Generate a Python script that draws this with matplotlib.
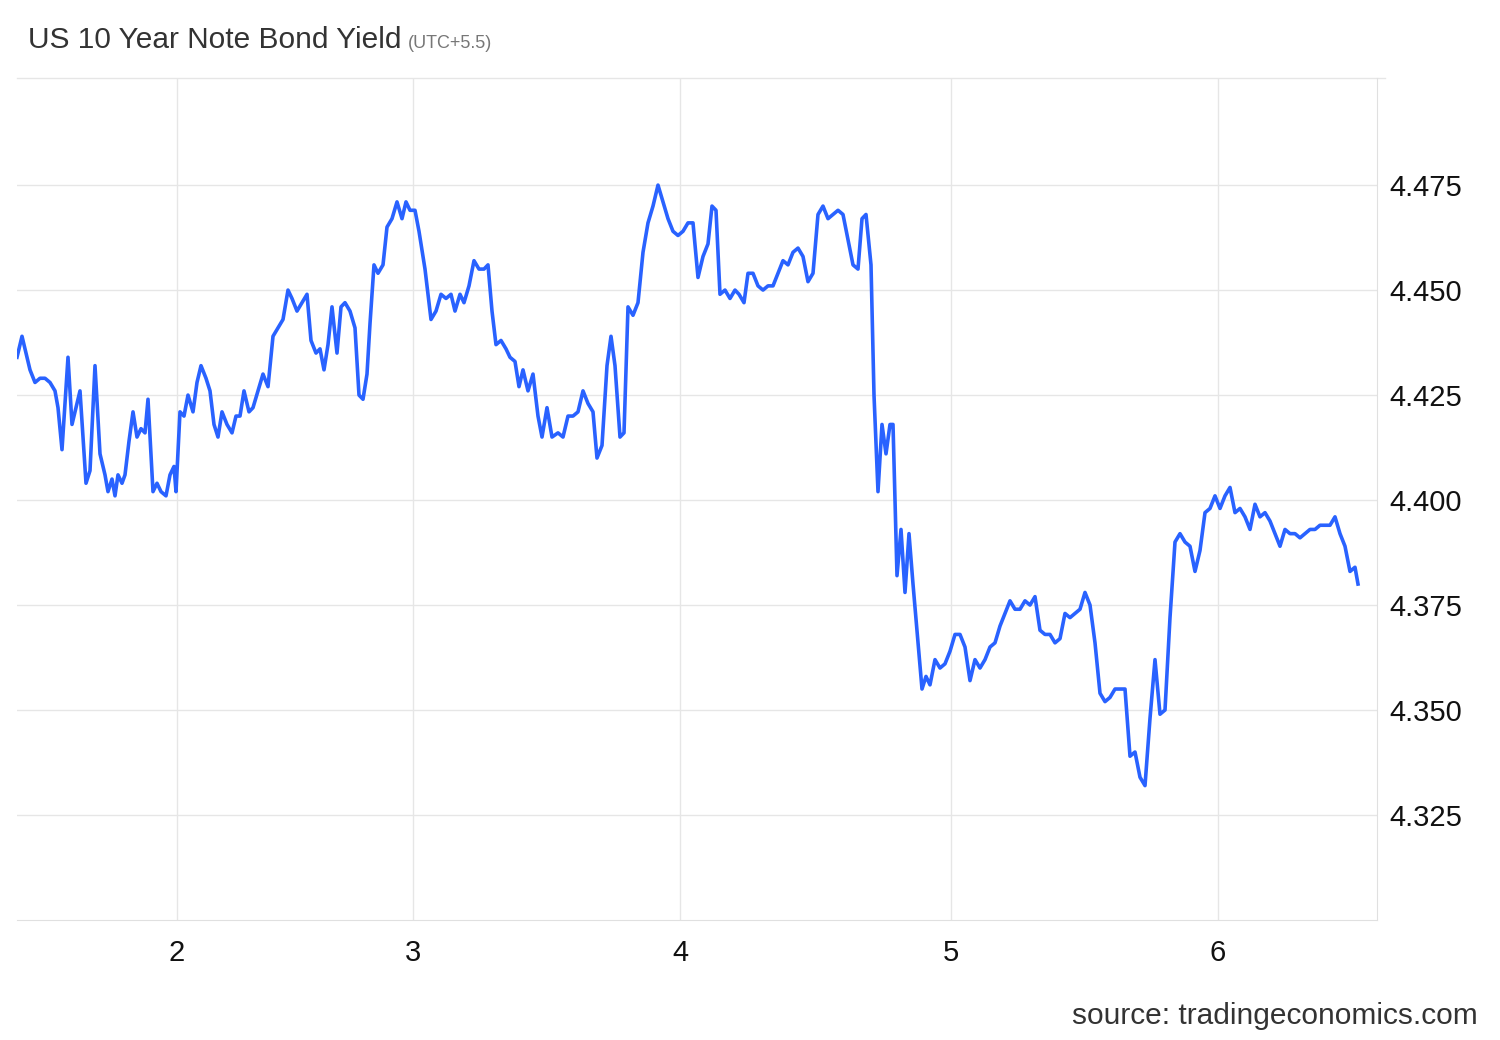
import matplotlib
matplotlib.use('Agg')
import matplotlib.pyplot as plt

# x positions along the time axis (chart units), yield values
x_pos = [17, 22, 26, 30, 35, 40, 45, 50, 55, 58, 62, 68, 72, 76, 80, 86, 90, 95, 100, 105, 108, 112, 115, 118, 122, 125,
         129, 133, 137, 141, 145, 148, 153, 157, 161, 166, 170, 174, 176, 180, 184, 188, 193, 197, 201, 206, 210, 214,
         218, 222, 227, 232, 236, 240, 244, 249, 253, 258, 263, 268, 273, 278, 283, 288, 292, 297, 302, 307, 311, 316,
         320, 324, 328, 332, 337, 341, 345, 350, 355, 359, 363, 367, 370, 374, 378, 383, 387, 392, 397, 402, 406, 410,
         415, 419, 425, 431, 436, 441, 446, 451, 455, 460, 464, 469, 474, 479, 484, 488, 492, 496, 501, 506, 510, 515,
         519, 523, 528, 533, 538, 542, 547, 552, 558, 563, 568, 573, 578, 583, 588, 593, 597, 602, 607, 611, 615, 620,
         624, 628, 633, 638, 643, 648, 653, 658, 663, 668, 673, 678, 683, 688, 693, 698, 703, 708, 712, 716, 720, 725,
         730, 735, 739, 744, 748, 753, 758, 763, 768, 773, 778, 783, 788, 793, 798, 803, 808, 813, 818, 823, 828, 833,
         838, 843, 848, 853, 858, 862, 866, 871, 874, 878, 882, 886, 890, 893, 897, 901, 905, 909, 913, 918, 922, 926,
         930, 935, 940, 945, 950, 955, 960, 965, 970, 975, 980, 985, 990, 995, 1000, 1005, 1010, 1015, 1020, 1025, 1030,
         1035, 1040, 1045, 1050, 1055, 1060, 1065, 1070, 1075, 1080, 1085, 1090, 1095, 1100, 1105, 1110, 1115, 1120,
         1125, 1130, 1135, 1140, 1145, 1150, 1155, 1160, 1165, 1170, 1175, 1180, 1185, 1190, 1195, 1200, 1205, 1210,
         1215, 1220, 1225, 1230, 1235, 1240, 1245, 1250, 1255, 1260, 1265, 1270, 1275, 1280, 1285, 1290, 1295, 1300,
         1305, 1310, 1315, 1320, 1325, 1330, 1335, 1340, 1345, 1350, 1355, 1358]
yields = [4.434, 4.439, 4.435, 4.431, 4.428, 4.429, 4.429, 4.428, 4.426, 4.422, 4.412, 4.434, 4.418, 4.422, 4.426,
          4.404, 4.407, 4.432, 4.411, 4.406, 4.402, 4.405, 4.401, 4.406, 4.404, 4.406, 4.414, 4.421, 4.415, 4.417,
          4.416, 4.424, 4.402, 4.404, 4.402, 4.401, 4.406, 4.408, 4.402, 4.421, 4.420, 4.425, 4.421, 4.428, 4.432,
          4.429, 4.426, 4.418, 4.415, 4.421, 4.418, 4.416, 4.420, 4.420, 4.426, 4.421, 4.422, 4.426, 4.430, 4.427,
          4.439, 4.441, 4.443, 4.450, 4.448, 4.445, 4.447, 4.449, 4.438, 4.435, 4.436, 4.431, 4.437, 4.446, 4.435,
          4.446, 4.447, 4.445, 4.441, 4.425, 4.424, 4.430, 4.442, 4.456, 4.454, 4.456, 4.465, 4.467, 4.471, 4.467,
          4.471, 4.469, 4.469, 4.464, 4.455, 4.443, 4.445, 4.449, 4.448, 4.449, 4.445, 4.449, 4.447, 4.451, 4.457,
          4.455, 4.455, 4.456, 4.445, 4.437, 4.438, 4.436, 4.434, 4.433, 4.427, 4.431, 4.426, 4.430, 4.420, 4.415,
          4.422, 4.415, 4.416, 4.415, 4.420, 4.420, 4.421, 4.426, 4.423, 4.421, 4.410, 4.413, 4.432, 4.439, 4.432,
          4.415, 4.416, 4.446, 4.444, 4.447, 4.459, 4.466, 4.470, 4.475, 4.471, 4.467, 4.464, 4.463, 4.464, 4.466,
          4.466, 4.453, 4.458, 4.461, 4.470, 4.469, 4.449, 4.450, 4.448, 4.450, 4.449, 4.447, 4.454, 4.454, 4.451,
          4.450, 4.451, 4.451, 4.454, 4.457, 4.456, 4.459, 4.460, 4.458, 4.452, 4.454, 4.468, 4.470, 4.467, 4.468,
          4.469, 4.468, 4.462, 4.456, 4.455, 4.467, 4.468, 4.456, 4.425, 4.402, 4.418, 4.411, 4.418, 4.418, 4.382,
          4.393, 4.378, 4.392, 4.380, 4.366, 4.355, 4.358, 4.356, 4.362, 4.360, 4.361, 4.364, 4.368, 4.368, 4.365,
          4.357, 4.362, 4.360, 4.362, 4.365, 4.366, 4.370, 4.373, 4.376, 4.374, 4.374, 4.376, 4.375, 4.377, 4.369,
          4.368, 4.368, 4.366, 4.367, 4.373, 4.372, 4.373, 4.374, 4.378, 4.375, 4.366, 4.354, 4.352, 4.353, 4.355,
          4.355, 4.355, 4.339, 4.340, 4.334, 4.332, 4.348, 4.362, 4.349, 4.350, 4.372, 4.390, 4.392, 4.390, 4.389,
          4.383, 4.388, 4.397, 4.398, 4.401, 4.398, 4.401, 4.403, 4.397, 4.398, 4.396, 4.393, 4.399, 4.396, 4.397,
          4.395, 4.392, 4.389, 4.393, 4.392, 4.392, 4.391, 4.392, 4.393, 4.393, 4.394, 4.394, 4.394, 4.396, 4.392,
          4.389, 4.383, 4.384, 4.380]

tick_pos = [177, 413, 680, 951, 1218]
tick_labels = ['2', '3', '4', '5', '6']
y_ticks = [4.325, 4.350, 4.375, 4.400, 4.425, 4.450, 4.475]

plt.rcParams['font.family'] = 'Liberation Sans'

fig = plt.figure(figsize=(15, 10.4), dpi=100)
ax = fig.add_axes([17/1500, 120/1040, 1360/1500, 842/1040])

ax.plot(x_pos, yields, color='#2962ff', lw=2.6, solid_joinstyle='round')

ax.set_xlim(17, 1377)
ax.set_ylim(4.300, 4.5005)
ax.set_xticks(tick_pos)
ax.set_xticklabels(tick_labels, fontsize=21)
ax.set_yticks(y_ticks)
ax.set_yticklabels(['%.3f' % v for v in y_ticks], fontsize=21, va='center_baseline')
ax.yaxis.tick_right()
ax.tick_params(length=0, pad=9, colors='#111111')
ax.tick_params(axis='x', pad=14)
ax.grid(True, color='#e6e6e6', lw=1)
ax.set_axisbelow(True)
for s in ['top', 'left']:
    ax.spines[s].set_visible(False)
for s in ['bottom', 'right']:
    ax.spines[s].set_color('#e0e0e0')
ax.axhline(4.5005, color='#e6e6e6', lw=1, clip_on=False, xmax=1368/1360)

fig.text(28/1500, 1 - 40/1040, 'US 10 Year Note Bond Yield', fontsize=21.5, color='#333333', va='center')
fig.text(408/1500, 1 - 43/1040, '(UTC+5.5)', fontsize=13, color='#777777', va='center')
fig.text(1478/1500, 1 - 1016/1040, 'source: tradingeconomics.com', fontsize=21.5, color='#333333',
         ha='right', va='center')

fig.savefig('out.png', dpi=100)
